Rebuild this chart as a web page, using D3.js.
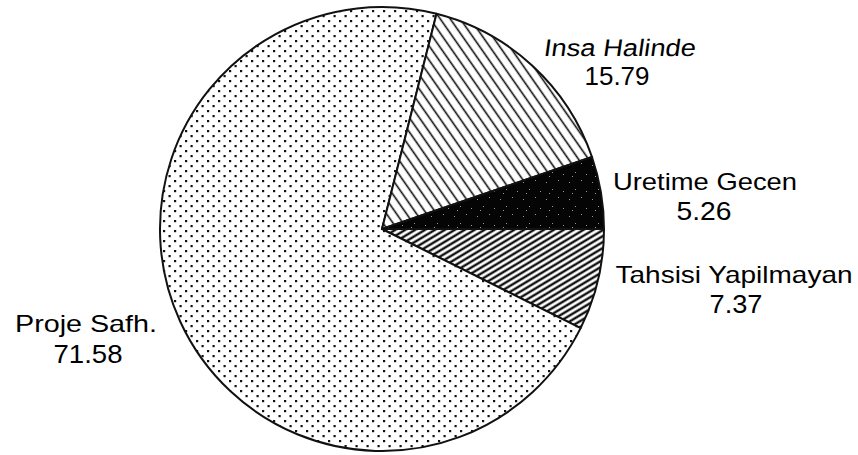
<!DOCTYPE html>
<html>
<head>
<meta charset="utf-8">
<script src="https://cdn.jsdelivr.net/npm/d3@7/dist/d3.min.js"></script>
<style>
  html, body { margin: 0; padding: 0; background: #fff; }
  svg { display: block; }
  text { font-family: "Liberation Sans", "DejaVu Sans", sans-serif; font-weight: normal; fill: #000; }
</style>
</head>
<body>
<svg id="chart" width="858" height="455"></svg>
<script>
// ---- data (clockwise from 3 o'clock) ----
const categories = ["Tahsisi Yapilmayan", "Proje Safh.", "Insa Halinde", "Uretime Gecen"];
const values = [7.37, 71.58, 15.79, 5.26];

// ---- layout (not data) ----
const cx = 382, cy = 229, radius = 222;
const fills = ["url(#hatchFwd)", "url(#dots)", "url(#hatchBack)", "url(#speckle)"];
const labelLayout = [
  { x: 734, y1: 283, w1: 237, x2: 736, y2: 313, w2: 53, skew: 0 },
  { x: 86,  y1: 332, w1: 142, x2: 88,  y2: 363, w2: 69, skew: 0 },
  { x: 619, y1: 56,  w1: 152, x2: 617, y2: 85,  w2: 65, skew: -8 },
  { x: 705, y1: 190, w1: 184, x2: 704, y2: 220, w2: 55, skew: 0 }
];

const svg = d3.select("#chart");
const defs = svg.append("defs");

// dotted pattern (diamond lattice)
const pd = defs.append("pattern").attr("id", "dots").attr("patternUnits", "userSpaceOnUse")
  .attr("width", 11).attr("height", 10);
pd.append("rect").attr("width", 11).attr("height", 10).attr("fill", "#fff");
pd.append("rect").attr("x", 1).attr("y", 1).attr("width", 2.2).attr("height", 2.2).attr("fill", "#111");
pd.append("rect").attr("x", 6.5).attr("y", 6).attr("width", 2.2).attr("height", 2.2).attr("fill", "#111");

// wide backslash hatch
const pb = defs.append("pattern").attr("id", "hatchBack").attr("patternUnits", "userSpaceOnUse")
  .attr("width", 20).attr("height", 8.2).attr("patternTransform", "rotate(55)");
pb.append("rect").attr("width", 20).attr("height", 8.2).attr("fill", "#fff");
pb.append("line").attr("x1", 0).attr("x2", 20).attr("y1", 4).attr("y2", 4)
  .attr("stroke", "#111").attr("stroke-width", 1.6);

// dense forward hatch
const pf = defs.append("pattern").attr("id", "hatchFwd").attr("patternUnits", "userSpaceOnUse")
  .attr("width", 20).attr("height", 5.1).attr("patternTransform", "rotate(-31)");
pf.append("rect").attr("width", 20).attr("height", 5.1).attr("fill", "#fff");
pf.append("line").attr("x1", 0).attr("x2", 20).attr("y1", 2.5).attr("y2", 2.5)
  .attr("stroke", "#111").attr("stroke-width", 2.4);

// black with sparse light speckles
const ps = defs.append("pattern").attr("id", "speckle").attr("patternUnits", "userSpaceOnUse")
  .attr("width", 23).attr("height", 17);
ps.append("rect").attr("width", 23).attr("height", 17).attr("fill", "#050505");
[[3,4],[15,2],[9,11],[20,13],[6,15]].forEach(([x,y]) =>
  ps.append("rect").attr("x", x).attr("y", y).attr("width", 1).attr("height", 1).attr("fill", "#999"));

const pie = d3.pie().sort(null).value(d => d)
  .startAngle(Math.PI / 2).endAngle(Math.PI / 2 + 2 * Math.PI);
const arc = d3.arc().innerRadius(0).outerRadius(radius);

const g = svg.append("g").attr("transform", `translate(${cx},${cy})`);
g.selectAll("path.slice").data(pie(values)).enter().append("path")
  .attr("class", "slice")
  .attr("d", arc)
  .attr("fill", (d, i) => fills[i])
  .attr("stroke", "#111")
  .attr("stroke-width", 2)
  .attr("stroke-linejoin", "round");

const fmt = d3.format(".2f");
const lbl = svg.append("g");
categories.forEach((c, i) => {
  const L = labelLayout[i];
  lbl.append("g").attr("transform", `translate(${L.x},${L.y1}) skewX(${L.skew})`)
    .append("text").attr("x", 0).attr("y", 0).attr("text-anchor", "middle")
    .attr("font-size", 24)
    .attr("textLength", L.w1).attr("lengthAdjust", "spacingAndGlyphs").text(c);
  lbl.append("text").attr("x", L.x2).attr("y", L.y2).attr("text-anchor", "middle")
    .attr("font-size", 25)
    .attr("textLength", L.w2).attr("lengthAdjust", "spacingAndGlyphs").text(fmt(values[i]));
});
</script>
</body>
</html>
